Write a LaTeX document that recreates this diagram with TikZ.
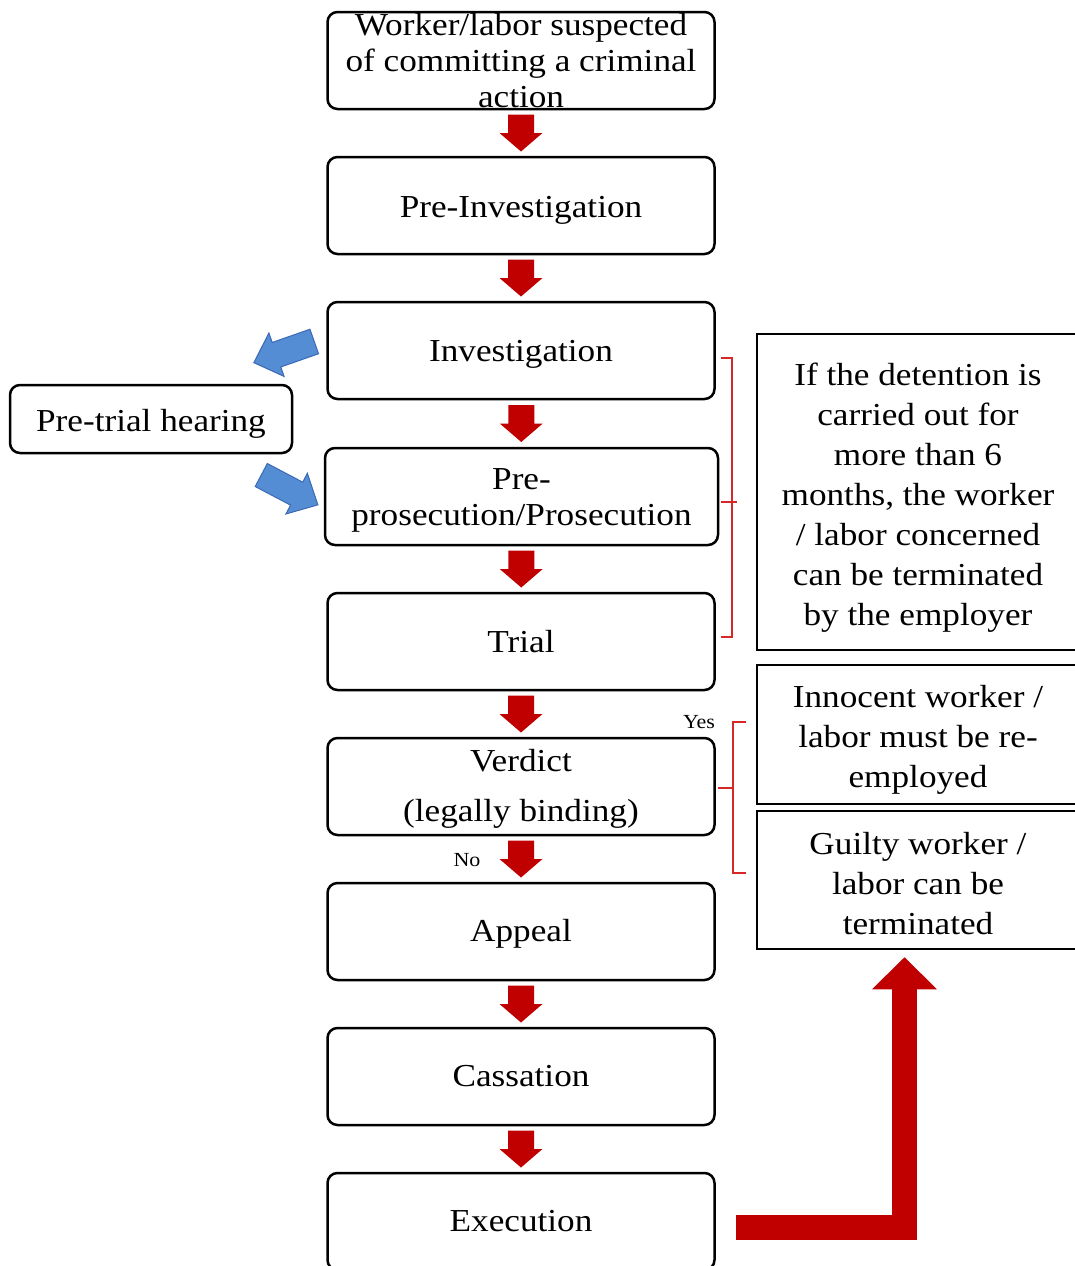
\documentclass[tikz,border=0pt]{standalone}
\usepackage{fontspec}
\setmainfont{Liberation Serif}[FakeStretch=1.1]
\usetikzlibrary{arrows.meta,calc}
\definecolor{dred}{RGB}{192,0,0}
\definecolor{bred}{RGB}{215,40,40}
\definecolor{bfill}{RGB}{84,141,212}
\definecolor{bline}{RGB}{60,105,180}
\begin{document}
\begin{tikzpicture}[x=1pt,y=-1pt,
  stepbox/.style={draw, line width=2.5pt, rounded corners=10pt, minimum width=387pt, minimum height=97pt, align=center, inner sep=0pt, font=\fontsize{32}{36}\selectfont},
  sidebox/.style={draw, line width=2.5pt, minimum width=322pt, align=center, inner sep=0pt, font=\fontsize{32}{40}\selectfont},
  bigflow/.style={dred, line width=25pt, line join=miter, -{Triangle[width=65pt,length=32pt,line width=0pt]}},
  brack/.style={bred, line width=1.2pt},
  small/.style={font=\fontsize{20}{24}\selectfont, inner sep=0pt},
  downarrow/.pic={\fill[dred] (-13,-18.5) -- (13,-18.5) -- (13,0) -- (21.5,0) -- (0,18.5) -- (-21.5,0) -- (-13,0) -- cycle;},
  blockarrow/.pic={\filldraw[fill=bfill, draw=bline, line width=1pt, line join=miter] (0,-13) -- (40,-13) -- (40,-23) -- (64,0) -- (40,23) -- (40,13) -- (0,13) -- cycle;}
]
\useasboundingbox (0,0) rectangle (1074,1266);

% main column
\node[stepbox] (b1) at (521,60.5) {};
\node[align=center, inner sep=0pt, font=\fontsize{32}{36}\selectfont] (b1t) at (b1.center) {Worker/labor suspected\\of committing a criminal\\action};
\node[stepbox] (b2) at (521,205.5) {\rule{0pt}{30pt}Pre-Investigation};
\node[stepbox] (b3) at (521,350.5) {\rule{0pt}{28pt}Investigation};
\node[stepbox, minimum width=393pt] (b4) at (521.5,496.5) {\rule{0pt}{29pt}Pre-\\prosecution/Prosecution};
\node[stepbox] (b5) at (521,641.5) {Trial};
\node[stepbox] (b6) at (521,786.5) {\rule{0pt}{26pt}Verdict\\[14pt](legally binding)};
\node[stepbox] (b7) at (521,931.5) {\rule{0pt}{26pt}Appeal};
\node[stepbox] (b8) at (521,1076.5) {Cassation};
\node[stepbox] (b9) at (521,1221.5) {Execution};

% pre-trial hearing
\node[draw, line width=2.5pt, rounded corners=10pt, minimum width=282pt, minimum height=68pt, inner sep=0pt, font=\fontsize{32}{36}\selectfont] (pth) at (151,419) {\rule{0pt}{32pt}Pre-trial hearing};

% side boxes
\node[sidebox, minimum height=316pt] (det) at (918,492) {\rule{0pt}{33pt}If the detention is\\carried out for\\more than 6\\months, the worker\\/ labor concerned\\can be terminated\\by the employer};
\node[sidebox, minimum height=139pt] (inn) at (918,734.5) {\rule{0pt}{32pt}Innocent worker /\\labor must be re-\\employed};
\node[sidebox, minimum height=138pt] (gui) at (918,880) {\rule{0pt}{30pt}Guilty worker /\\labor can be\\terminated};

% flow arrows
\foreach \a/\b in {b1/b2,b2/b3,b3/b4,b4/b5,b5/b6,b6/b7,b7/b8,b8/b9}{
  \pic at ($(\a.south)!0.5!(\b.north)$) {downarrow};
}

% Yes / No
\node[small] (yes) at (699,722) {Yes};
\node[small] (no) at (467,860) {No};

% blue arrows
\coordinate (ba1) at ($(b3.west)+(-12,-9)$);
\coordinate (ba2) at ($(pth.east)+(-32,56)$);
\pic[rotate=199.3] at (ba1) {blockarrow};
\pic[rotate=-27.8] at (ba2) {blockarrow};

% brackets
\draw[brack] (721,358) -- (732,358) -- (732,637) -- (721,637);
\draw[brack] (721,502) -- (737,502);
\draw[brack] (746,722) -- (733,722) -- (733,873) -- (746,873);
\draw[brack] (718,788) -- (733,788);

% big arrow
\draw[bigflow] ($(b9.east)+(20,6)$) -| ($(gui.south)+(-13.5,7)$);
\end{tikzpicture}
\end{document}
